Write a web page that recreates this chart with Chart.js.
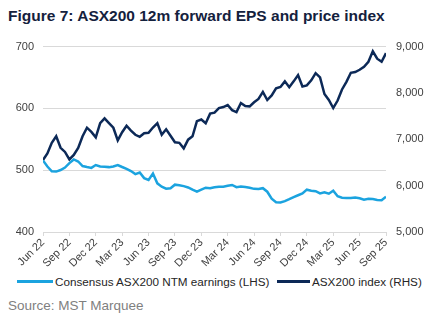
<!DOCTYPE html>
<html>
<head>
<meta charset="utf-8">
<script src="https://cdn.jsdelivr.net/npm/chart.js@4.4.1/dist/chart.umd.min.js"></script>
<style>
  body { margin: 0; background: #fff; font-family: "Liberation Sans", Arial, sans-serif; }
  #wrap { position: relative; width: 430px; height: 321px; overflow: hidden; }
  #title { position: absolute; left: 8px; top: 7px; font-size: 15.5px; font-weight: bold; color: #14213d; white-space: nowrap; }
  #box { position: absolute; left: 0; top: 30px; width: 430px; height: 240px; }
  #legend { position: absolute; top: 275px; left: 0; font-size: 11.7px; line-height: 14px; color: #262626; white-space: nowrap; }
  #legend span.item { position: absolute; top: 0; }
  #legend i { display: inline-block; height: 3px; vertical-align: middle; margin-right: 2px; position: relative; top: -1px; }
  #source { position: absolute; left: 8px; top: 298px; font-size: 13.5px; color: #7f7f7f; }
</style>
</head>
<body>
<div id="wrap">
  <div id="title">Figure 7: ASX200 12m forward EPS and price index</div>
  <div id="box"><canvas id="epsChart"></canvas></div>
  <div id="legend"></div>
  <div id="source">Source: MST Marquee</div>
</div>
<script>
// quarterly tick labels, data is semi-monthly (6 points per quarter)
const quarterLabels = ['Jun 22', 'Sep 22', 'Dec 22', 'Mar 23', 'Jun 23', 'Sep 23', 'Dec 23',
    'Mar 24', 'Jun 24', 'Sep 24', 'Dec 24', 'Mar 25', 'Jun 25', 'Sep 25'];

// Consensus ASX200 NTM earnings (LHS)
const epsValues = [515.8, 506, 498.1, 497.8, 500.3, 504.3, 511.4, 517.4, 514.1, 506.8,
    505.2, 503.8, 508.4, 506, 505.5, 505, 506, 508.4, 505.2, 502.2,
    498.6, 493.7, 496.2, 487.2, 484.3, 494.6, 478.7, 473.4, 470.1, 470.9,
    476.6, 475.8, 474.2, 472.1, 468.5, 465.2, 468.5, 471.7, 470.9, 472.5,
    473.4, 473.1, 474.7, 476.1, 472.5, 473.7, 472.9, 471.7, 469.8, 469.6,
    470.9, 465.2, 453.8, 448.1, 447.8, 450, 453.1, 456.6, 459.5, 462.3,
    468.5, 466.8, 466, 462.4, 464.4, 462, 466.8, 457.9, 455.4, 455,
    455, 455.8, 454.6, 452.2, 453.8, 453.3, 451.7, 451.3, 457.1];

// ASX200 index (RHS)
const asxValues = [6554, 6696, 6924, 7065, 6817, 6728, 6565, 6663, 6815, 7065,
    7250, 7159, 7043, 7348, 7450, 7348, 7250, 6978, 7152, 7293,
    7189, 7098, 7054, 7130, 7141, 7254, 7348, 7098, 7217, 7076,
    6935, 6924, 6804, 6993, 7065, 7391, 7428, 7348, 7554, 7576,
    7674, 7696, 7739, 7630, 7587, 7783, 7717, 7711, 7798, 7870,
    8022, 7848, 7946, 8098, 8130, 8250, 8124, 8250, 8385, 8141,
    8163, 8272, 8428, 8337, 7978, 7848, 7674, 7837, 8076, 8239,
    8435, 8450, 8500, 8565, 8674, 8898, 8739, 8674, 8859];

const seriesNames = ['Consensus ASX200 NTM earnings (LHS)', 'ASX200 index (RHS)'];
const seriesColors = ['#1ba3df', '#0c2957'];

const toPoints = arr => arr.map((v, i) => ({ x: i, y: v }));

const gridColor = '#d9d9d9';
const tickColor = '#404040';
const font = { family: '"Liberation Sans", Arial, sans-serif', size: 11 };

// legend drawn as html so it stays on one line like the original
const legendLeft = [17, 277];
const legendLineWidth = [36, 33];
document.getElementById('legend').innerHTML = seriesNames.map((name, i) =>
    `<span class="item" style="left:${legendLeft[i]}px"><i style="width:${legendLineWidth[i]}px;background:${seriesColors[i]}"></i>${name}</span>`
).join('');

new Chart(document.getElementById('epsChart').getContext('2d'), {
    type: 'line',
    data: {
        datasets: [{
            label: seriesNames[0],
            data: toPoints(epsValues),
            yAxisID: 'yL',
            borderColor: seriesColors[0],
            borderWidth: 2.5,
            pointRadius: 0,
            tension: 0
        }, {
            label: seriesNames[1],
            data: toPoints(asxValues),
            yAxisID: 'yR',
            borderColor: seriesColors[1],
            borderWidth: 2.5,
            pointRadius: 0,
            tension: 0
        }]
    },
    options: {
        responsive: true,
        maintainAspectRatio: false,
        animation: false,
        layout: { padding: { left: 0, right: 0, top: 10, bottom: 0 } },
        plugins: {
            tooltip: { enabled: false },
            legend: { display: false }
        },
        scales: {
            x: {
                type: 'linear',
                min: 0,
                max: (quarterLabels.length - 1) * 6,
                border: { display: true, color: gridColor },
                grid: { display: true, drawOnChartArea: false, drawTicks: true, tickLength: 4, color: gridColor },
                ticks: {
                    stepSize: 6,
                    autoSkip: false,
                    maxRotation: 45,
                    minRotation: 45,
                    color: tickColor,
                    font: font,
                    padding: 0,
                    callback: v => quarterLabels[v / 6]
                }
            },
            yL: {
                position: 'left',
                min: 400,
                max: 700,
                border: { display: false },
                grid: { color: gridColor, drawTicks: false },
                ticks: { stepSize: 100, color: tickColor, font: font, padding: 9 },
                afterFit: s => { s.width = 43; }
            },
            yR: {
                position: 'right',
                min: 5000,
                max: 9000,
                border: { display: false },
                grid: { drawOnChartArea: false, drawTicks: false },
                ticks: {
                    stepSize: 1000,
                    color: tickColor,
                    font: font,
                    padding: 10,
                    callback: v => v.toLocaleString('en-US')
                },
                afterFit: s => { s.width = 44; }
            }
        }
    }
});
</script>
</body>
</html>
